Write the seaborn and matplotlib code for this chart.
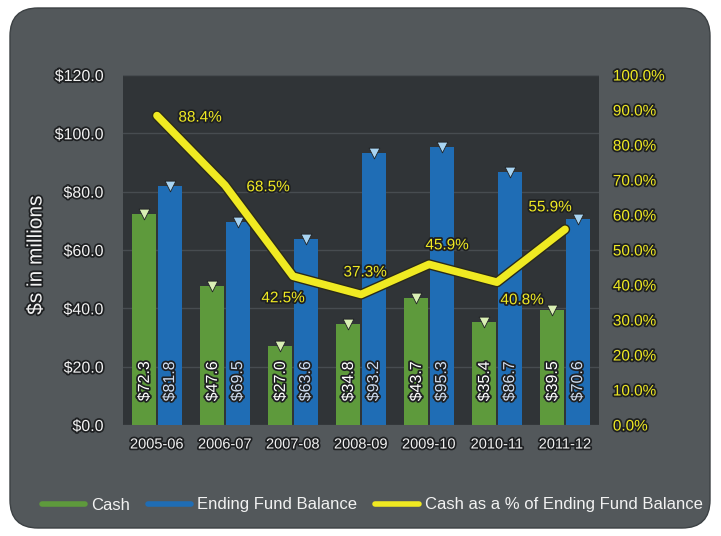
import numpy as np
import pandas as pd
import matplotlib
matplotlib.use("Agg")
import matplotlib.pyplot as plt
import matplotlib.patheffects as pe
from matplotlib.patches import FancyBboxPatch
from matplotlib.lines import Line2D
from matplotlib.ticker import FuncFormatter, MultipleLocator
import seaborn as sns

# ---- data ($ millions, fiscal years) ----
years = ["2005-06", "2006-07", "2007-08", "2008-09", "2009-10", "2010-11", "2011-12"]
cash = [72.3, 47.6, 27.0, 34.8, 43.7, 35.4, 39.5]
ending_balance = [81.8, 69.5, 63.6, 93.2, 95.3, 86.7, 70.6]
cash_pct = [88.4, 68.5, 42.5, 37.3, 45.9, 40.8, 55.9]
series_names = ["Cash", "Ending Fund Balance"]
pct_name = "Cash as a % of Ending Fund Balance"
y_label = "$s in millions"

# ---- style ----
GREEN = "#5e9a3c"
BLUE = "#1f6db5"
YELLOW = "#f0ea22"
PANEL = "#53585b"
PLOT_BG = "#303437"
TEXT = "#f2f2f2"

sns.set_theme(style="dark")
plt.rcParams["font.family"] = ["Liberation Sans", "DejaVu Sans"]
halo = [pe.withStroke(linewidth=2.5, foreground="#1e2022")]

fig = plt.figure(figsize=(7.21, 5.36), dpi=100, facecolor="white")

# rounded dark panel behind the chart
panel = FancyBboxPatch((0.10 + 0.28, 0.08 + 0.28), 7.00 - 0.56, 5.20 - 0.56,
                       boxstyle="round,pad=0.28,rounding_size=0.28",
                       transform=fig.dpi_scale_trans, facecolor=PANEL,
                       edgecolor="#3c4144", linewidth=1.0, zorder=-10)
fig.patches.append(panel)

ax = fig.add_axes([123 / 721, 1 - 425 / 536, 476 / 721, 350 / 536])
ax.set_facecolor(PLOT_BG)

df = pd.DataFrame({
    "year": years * 2,
    "series": [series_names[0]] * len(years) + [series_names[1]] * len(years),
    "value": cash + ending_balance,
})
sns.barplot(data=df, x="year", y="value", hue="series", hue_order=series_names,
            palette=[GREEN, BLUE], width=0.74, gap=0.04, saturation=1,
            linewidth=0, legend=False, ax=ax, zorder=2)

# caps on top of bars and rotated value labels inside them
cap_colors = {GREEN: "#d9efb4", BLUE: "#a8d4f2"}
label_colors = {GREEN: "#ffffff", BLUE: "#cfdcef"}
for bar in ax.patches:
    h = bar.get_height()
    if h <= 0:
        continue
    xc = bar.get_x() + bar.get_width() / 2
    fc = matplotlib.colors.to_hex(bar.get_facecolor())
    key = GREEN if fc.lower() == GREEN else BLUE
    ax.scatter([xc], [h], marker="v", s=60, color=cap_colors[key],
               edgecolor="#202224", linewidth=0.6, zorder=3)
    ax.text(xc, 15, f"${h:.1f}", rotation=90, ha="center", va="center",
            color=label_colors[key], fontsize=11.5, zorder=4, path_effects=halo)

ax.set_ylim(0, 120)
ax.yaxis.set_major_locator(MultipleLocator(20))
ax.yaxis.set_major_formatter(FuncFormatter(lambda v, _: f"${v:.1f}"))
ax.yaxis.grid(True, color="#474c50", linewidth=1.0, zorder=0)
ax.xaxis.grid(False)
ax.set_axisbelow(True)
ax.set_xlabel("")
ax.set_ylabel("")
ax.tick_params(axis="y", colors=TEXT, labelsize=11.5, pad=14, length=0)
ax.tick_params(axis="x", colors=TEXT, labelsize=10.5, pad=9, length=0)
for lab in ax.get_yticklabels() + ax.get_xticklabels():
    lab.set_path_effects(halo)
for sp in ax.spines.values():
    sp.set_visible(False)

# percentage line on the secondary axis
ax2 = ax.twinx()
sns.lineplot(x=np.arange(len(years)), y=cash_pct, ax=ax2, color=YELLOW,
             linewidth=5.5, solid_capstyle="round", solid_joinstyle="round",
             zorder=5, path_effects=[pe.withStroke(linewidth=7.5, foreground="#2a2a1a")])
ax2.set_ylim(0, 100)
ax2.yaxis.set_major_locator(MultipleLocator(10))
ax2.yaxis.set_major_formatter(FuncFormatter(lambda v, _: f"{v:.1f}%"))
ax2.tick_params(axis="y", colors=YELLOW, labelsize=11, pad=10, length=0)
ax2.grid(False)
for lab in ax2.get_yticklabels():
    lab.set_path_effects(halo)
for sp in ax2.spines.values():
    sp.set_visible(False)
ax2.set_ylabel("")

label_offsets = [(43, -2), (43, -2), (-10, -22), (4, 22), (18, 19), (25, -18), (-15, 22)]
for i, (p, off) in enumerate(zip(cash_pct, label_offsets)):
    ax2.annotate(f"{p:.1f}%", (i, p), xytext=off, textcoords="offset pixels",
                 ha="center", va="center", color=YELLOW, fontsize=11,
                 path_effects=halo, zorder=6)

ax.set_xlim(-0.5, len(years) - 0.5)
ax2.set_xlim(-0.5, len(years) - 0.5)

fig.text(36 / 721, 1 - 255 / 536, y_label, rotation=90, ha="center", va="center",
         color=TEXT, fontsize=15, path_effects=halo)

handles = [Line2D([], [], color=GREEN, linewidth=4),
           Line2D([], [], color=BLUE, linewidth=4),
           Line2D([], [], color=YELLOW, linewidth=4)]
leg = fig.legend(handles, series_names + [pct_name], loc="center",
                 bbox_to_anchor=(372 / 721, 1 - 505 / 536), ncol=3, frameon=False,
                 fontsize=12, handlelength=2.6, handletextpad=0.35,
                 columnspacing=1.1, labelcolor=TEXT)

fig.savefig("out.png", dpi=100, facecolor="white")
